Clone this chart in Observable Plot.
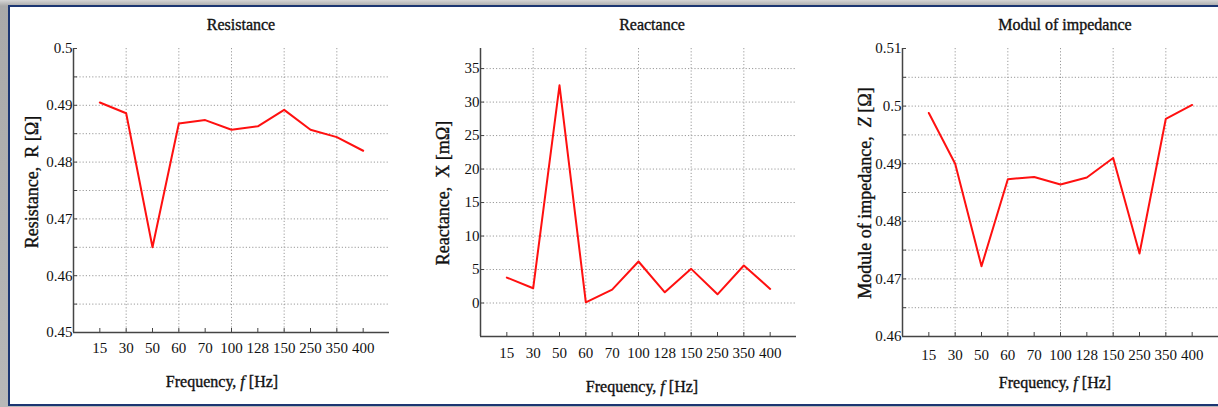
<!DOCTYPE html>
<html>
<head>
<meta charset="utf-8">
<script src="https://cdn.jsdelivr.net/npm/d3@7"></script>
<script src="https://cdn.jsdelivr.net/npm/@observablehq/plot@0.6"></script>
<style>
  html, body { margin: 0; padding: 0; }
  #wrap { position: relative; width: 1218px; height: 407px; overflow: hidden;
          background: linear-gradient(to bottom, #d6d6d6 0px, #a9a9a9 6px, #b8b8b8 100%); }
  #frame { position: absolute; left: 8px; top: 5px; width: 1230px; height: 397px;
           background: #fff; border: 2.5px solid #1c3672; border-right: none; }
  .panel { position: absolute; top: 0; }
  .txt { position: absolute; font-family: "Liberation Serif", "Times New Roman", serif; color: #111;
         white-space: pre; transform: translate(-50%, -50%); line-height: 1;
         -webkit-text-stroke: 0.35px #111; }
  .ttl { font-size: 16px; }
  .xl { font-size: 16px; }
  .yl { font-size: 18px; transform: translate(-50%, -50%) rotate(-90deg); }
</style>
</head>
<body>
<div id="wrap">
  <div id="frame"></div>
</div>
<script>
// ---- data ----
const freqLabels = ["15", "30", "50", "60", "70", "100", "128", "150", "250", "350", "400"];
const resistance = [0.4905, 0.4886, 0.4650, 0.4868, 0.4874, 0.4857, 0.4863, 0.4892, 0.4857, 0.4844, 0.4820];
const reactance  = [3.8, 2.2, 32.5, 0.1, 2.0, 6.2, 1.6, 5.1, 1.3, 5.6, 2.1];
const impedance  = [0.4988, 0.4900, 0.4722, 0.4873, 0.4877, 0.4864, 0.4876, 0.4910, 0.4744, 0.4978, 0.5002];

const resYTicks = [0.45, 0.46, 0.47, 0.48, 0.49, 0.5];
const resYGrid  = [0.455, 0.46, 0.465, 0.47, 0.475, 0.48, 0.485, 0.49, 0.495];
const reaYTicks = [0, 5, 10, 15, 20, 25, 30, 35];
const impYTicks = [0.46, 0.47, 0.48, 0.49, 0.5, 0.51];
const impYGrid  = [0.465, 0.47, 0.475, 0.48, 0.485, 0.49, 0.495, 0.5, 0.505];
const xGridIdx  = [1, 3, 5, 7, 9];

const FONT = "Liberation Serif";
const wrap = document.getElementById("wrap");

function panel({left, width, mLeft, mRight, mTop, mBottom, yDomain, values, yTicks, yGrid, yTickMarks, xPad}) {
  const idx = freqLabels.map((_, i) => i);
  const data = values.map((v, i) => ({i, v}));
  const H = 407;
  const plotH = H - mTop - mBottom;
  const plotW = width - mLeft - mRight;
  const chart = Plot.plot({
    width, height: H,
    marginLeft: mLeft, marginRight: mRight, marginTop: mTop, marginBottom: mBottom,
    style: {background: "transparent", overflow: "visible", fontFamily: FONT},
    x: {type: "linear", domain: [-1, 11], axis: null, label: null},
    y: {type: "linear", domain: yDomain, axis: null, label: null},
    marks: [
      Plot.ruleY(yGrid, {y: d => d, stroke: "#9a9a9a", strokeDasharray: "1.2,2"}),
      Plot.ruleX(xGridIdx, {x: d => d, stroke: "#9a9a9a", strokeDasharray: "1.2,2"}),
      Plot.tickX(idx, {x: d => d, stroke: "#444", insetTop: plotH - 4}),
      Plot.tickY(yTickMarks, {y: d => d, stroke: "#444", insetRight: plotW - 4}),
      Plot.ruleX([-1], {x: d => d, stroke: "#444", strokeWidth: 1.5}),
      Plot.ruleY([yDomain[0]], {y: d => d, stroke: "#444", strokeWidth: 1.5}),
      Plot.line(data, {x: "i", y: "v", stroke: "#ff1010", strokeWidth: 2}),
      Plot.axisX(idx, {tickFormat: i => freqLabels[i], tickSize: 0, tickPadding: xPad, label: null,
                       fontSize: 15, fontFamily: FONT, fill: "#111", stroke: "#111", strokeWidth: 0.3}),
      Plot.axisY(yTicks, {tickFormat: d => String(+d.toFixed(3)), tickSize: 0, tickPadding: 1, label: null,
                          fontSize: 15, fontFamily: FONT, fill: "#111", stroke: "#111", strokeWidth: 0.3})
    ]
  });
  chart.classList.add("panel");
  chart.style.left = left + "px";
  chart.style.position = "absolute";
  chart.style.top = "0px";
  wrap.appendChild(chart);
}

panel({left: 0, width: 400, mLeft: 73, mRight: 11, mTop: 48, mBottom: 75,
       yDomain: [0.45, 0.5], values: resistance, yTicks: resYTicks, yGrid: resYGrid,
       yTickMarks: resYGrid.concat([0.5]), xPad: 10});
panel({left: 405, width: 405, mLeft: 75, mRight: 14, mTop: 48, mBottom: 71,
       yDomain: [-5, 38], values: reactance, yTicks: reaYTicks, yGrid: reaYTicks,
       yTickMarks: reaYTicks, xPad: 11});
panel({left: 815, width: 403, mLeft: 87, mRight: 0, mTop: 48, mBottom: 71,
       yDomain: [0.46, 0.51], values: impedance, yTicks: impYTicks, yGrid: impYGrid,
       yTickMarks: impYGrid.concat([0.51]), xPad: 13});

function addText(cls, x, y, html) {
  const d = document.createElement("div");
  d.className = "txt " + cls;
  d.style.left = x + "px";
  d.style.top = y + "px";
  d.innerHTML = html;
  wrap.appendChild(d);
}
addText("ttl", 241, 25, "Resistance");
addText("ttl", 652, 25, "Reactance");
addText("ttl", 1065, 25, "Modul of impedance");
addText("xl", 222, 382, "Frequency, <i>f</i> [Hz]");
addText("xl", 642, 387, "Frequency, <i>f</i> [Hz]");
addText("xl", 1055, 383, "Frequency, <i>f</i> [Hz]");
addText("yl", 32, 182, "Resistance,  R [Ω]");
addText("yl", 443, 193, "Reactance,  X [mΩ]");
addText("yl", 865, 193, "Module of impedance,  <i>Z</i> [Ω]");
</script>
</body>
</html>
